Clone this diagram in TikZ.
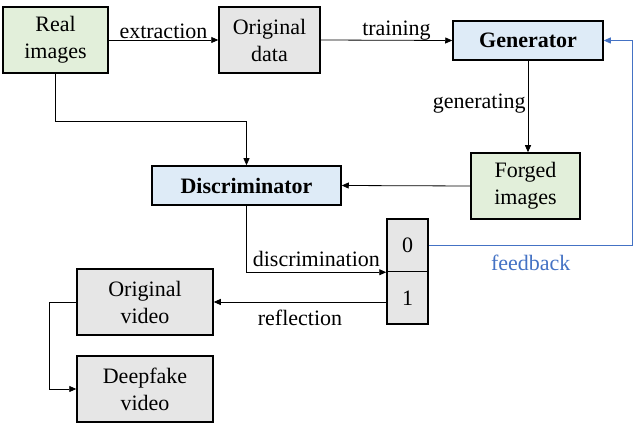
\documentclass[tikz,border=0pt]{standalone}
\usepackage{fontspec}
\setmainfont{Liberation Serif}
\usetikzlibrary{arrows.meta}

\definecolor{boxgreen}{HTML}{E2EFDA}
\definecolor{boxgray}{HTML}{E6E6E6}
\definecolor{boxblue}{HTML}{DEEBF7}
\definecolor{fbblue}{HTML}{4472C4}

\begin{document}
\begin{tikzpicture}[x=1pt, y=-1pt,
    box/.style={draw, line width=1.5pt, align=center, inner sep=0pt,
        font=\fontsize{22}{27}\selectfont},
    lbl/.style={font=\fontsize{22}{27}\selectfont, inner sep=2pt},
    arr/.style={-{Triangle[length=7pt,width=6pt]}, line width=0.8pt}]

    \useasboundingbox (0,0) rectangle (638,427);

    % Draw the boxes
    \node[box, fill=boxgreen, minimum width=105pt, minimum height=66pt] (real) at (55.5,40) {Real\\images};
    \node[box, fill=boxgray, minimum width=101pt, minimum height=66pt] (orig) at (269.5,40) {Original\\data};
    \node[box, fill=boxblue, minimum width=150pt, minimum height=39pt, font=\fontsize{22}{27}\selectfont\bfseries] (gen) at (528,40.5) {Generator};
    \node[box, fill=boxgreen, minimum width=109pt, minimum height=66pt] (forged) at (525.5,186) {Forged\\images};
    \node[box, fill=boxblue, minimum width=189pt, minimum height=39pt, font=\fontsize{22}{27}\selectfont\bfseries] (disc) at (246.5,185.5) {Discriminator};
    \node[box, fill=boxgray, minimum width=41pt, minimum height=52.5pt] (bit0) at (407.5,245.25) {0};
    \node[box, fill=boxgray, minimum width=41pt, minimum height=52.5pt] (bit1) at (407.5,297.75) {1};
    \node[box, fill=boxgray, minimum width=136pt, minimum height=66pt] (ovid) at (145,302) {Original\\video};
    \node[box, fill=boxgray, minimum width=136pt, minimum height=66pt] (dvid) at (145,389) {Deepfake\\video};

    % Draw the extraction and training arrows
    \draw[arr] (real.east) -- node[lbl, above, yshift=-1pt] {extraction} (orig.west);
    \draw[arr] (orig.east) -- node[lbl, above, xshift=10pt, yshift=-2pt] {training} (gen.west);

    % Draw the generating arrow
    \draw[arr] (gen.south) -- node[lbl, left, yshift=3pt] {generating} (gen.south |- forged.north);

    % Draw the arrows into the discriminator
    \draw[arr] (forged.west) -- (disc.east);
    \draw[arr] (real.south) -- ++(0,48) -| (disc.north);

    % Draw the discrimination arrow
    \draw[arr] (disc.south) |- node[lbl, above, pos=0.75, yshift=3pt] {discrimination} (bit0.south west);

    % Draw the feedback loop
    \draw[arr, fbblue] (bit0.east) -- node[lbl, below, yshift=-7pt] {feedback} ++(204,0) |- (gen.east);

    % Draw the reflection arrow
    \draw[arr] (ovid.east -| bit1.west) -- node[lbl, below, yshift=-6pt] {reflection} (ovid.east);

    % Draw the arrow to the deepfake video
    \draw[arr] (ovid.west) -- ++(-27,0) |- (dvid.west);
\end{tikzpicture}
\end{document}
